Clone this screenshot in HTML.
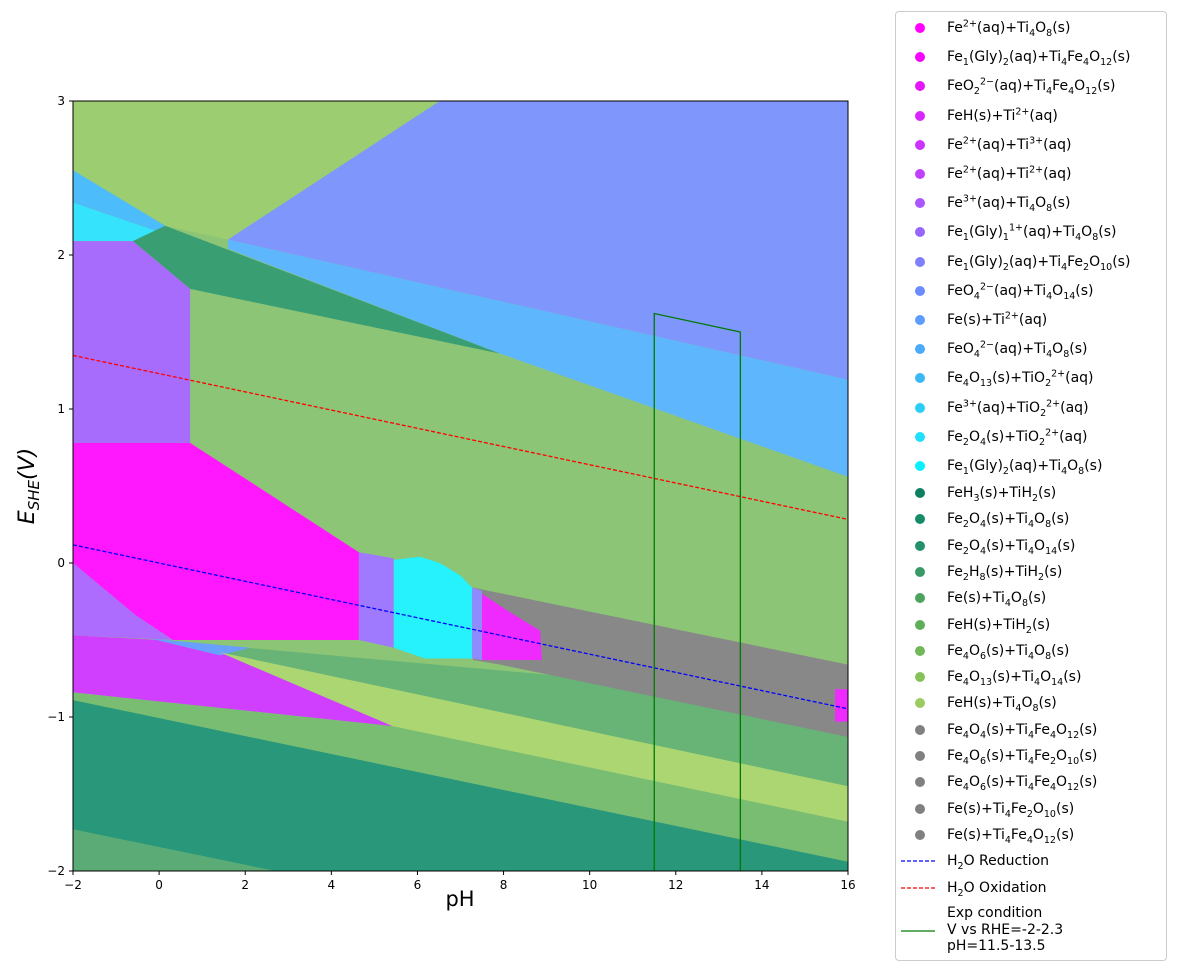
<!DOCTYPE html>
<html><head><meta charset="utf-8"><style>
body{margin:0;background:#fff;font-family:"DejaVu Sans","Liberation Sans",sans-serif}
#wrap{position:relative;width:1178px;height:972px}
#legend{position:absolute;left:895px;top:11px;width:272px;height:950px;border:1px solid #ccc;border-radius:4px;box-sizing:border-box;background:#fff;font-size:14px;color:#000}
.le{position:absolute;left:0;height:20px;line-height:20px;white-space:nowrap}
.le .dot{position:absolute;left:19px;top:5px;width:10px;height:10px;border-radius:50%}
.le .tx{position:absolute;left:51px;top:0}
.le svg{position:absolute;left:5px;top:9px}
sub,sup{font-size:9.5px;line-height:0}
</style></head><body>
<div id="wrap">
<svg id="plot" width="1178" height="972" style="position:absolute;left:0;top:0"></svg>
<div id="legend"></div>
</div>
<script>
const regionNames=["lightGreenTop","periwinkle","lightBlue","blueStrip","cyanStrip","darkGreen","purple","magenta","lavender","green2","dmagentaBand","blueSliver","yellowGreen","midGreen","teal","bottomGreen","gray","purpleStrip","cyanPatch","lavStrip","magPatch2","magPatch3"];
const regionColors=["#9ccd71","#7f96fd","#5eb7fd","#4cbcfa","#35e3fd","#3a9e73","#a86cfd","#ff18fd","#ad6cfd","#67b476","#d03ffe","#6aa0fd","#acd672","#79bd73","#28977a","#5aab76","#888888","#9f79fe","#25f2fd","#8f8afd","#ee2afe","#ee2afe"];
const regionPH=[
[-2,6.52,1.60,0.14,-2],
[6.52,16,16,1.60],
[1.60,16,16,7.92,1.60],
[-2,0.14,0.62,-2],
[-2,0.62,-2],
[0.14,7.92,0.72,-0.61],
[-2,-0.61,0.72,0.72,-2],
[-2,0.72,4.64,4.64,0.32,-0.54,-2],
[-2,-0.54,0.32,-2],
[0.04,16,16,1.41],
[-2,0.04,1.41,5.43,-2],
[-0.21,2.11,1.41],
[1.41,16,16,5.43],
[-2,5.43,16,16,-2],
[-2,16,16,2.69,-2],
[-2,2.69,-2],
[7.29,16,16,7.92,7.29],
[4.64,5.45,5.45,4.64],
[5.45,6.06,6.52,6.99,7.27,7.27,6.17,5.45],
[7.27,7.50,7.50,7.27],
[7.50,8.15,8.85,8.89,7.50],
[15.7,16,16,15.7]];
const regionE=[
[3,3,2.10,2.19,2.55],
[3,3,1.19,2.10],
[2.10,1.19,0.56,1.36,2.04],
[2.55,2.19,2.09,2.34],
[2.34,2.09,2.09],
[2.19,1.36,1.78,2.09],
[2.09,2.09,1.78,0.78,0.78],
[0.78,0.78,0.07,-0.50,-0.50,-0.34,0],
[0,-0.34,-0.50,-0.47],
[-0.50,-0.90,-1.45,-0.58],
[-0.47,-0.50,-0.58,-1.06,-0.84],
[-0.49,-0.55,-0.60],
[-0.58,-1.45,-1.68,-1.06],
[-0.84,-1.06,-1.68,-2,-2],
[-0.89,-1.94,-2,-2,-1.73],
[-1.73,-2,-2],
[-0.16,-0.66,-1.13,-0.66,-0.63],
[0.07,0.03,-0.55,-0.50],
[0.02,0.04,0,-0.08,-0.16,-0.62,-0.62,-0.55],
[-0.16,-0.18,-0.63,-0.62],
[-0.20,-0.32,-0.44,-0.63,-0.63],
[-0.82,-0.82,-1.03,-1.03]];
const xTicks=[-2,0,2,4,6,8,10,12,14,16];
const yTicks=[-2,-1,0,1,2,3];
const linePH=[-2,16];
const reductionE=[0.118,-0.947];
const oxidationE=[1.348,0.283];
const expPH=[11.5,11.5,13.5,13.5];
const expE=[-2,1.62,1.50,-2];
const legendLabels=["Fe<sup>2+</sup>(aq)+Ti<sub>4</sub>O<sub>8</sub>(s)","Fe<sub>1</sub>(Gly)<sub>2</sub>(aq)+Ti<sub>4</sub>Fe<sub>4</sub>O<sub>12</sub>(s)","FeO<sub>2</sub><sup>2−</sup>(aq)+Ti<sub>4</sub>Fe<sub>4</sub>O<sub>12</sub>(s)","FeH(s)+Ti<sup>2+</sup>(aq)","Fe<sup>2+</sup>(aq)+Ti<sup>3+</sup>(aq)","Fe<sup>2+</sup>(aq)+Ti<sup>2+</sup>(aq)","Fe<sup>3+</sup>(aq)+Ti<sub>4</sub>O<sub>8</sub>(s)","Fe<sub>1</sub>(Gly)<sub>1</sub><sup>1+</sup>(aq)+Ti<sub>4</sub>O<sub>8</sub>(s)","Fe<sub>1</sub>(Gly)<sub>2</sub>(aq)+Ti<sub>4</sub>Fe<sub>2</sub>O<sub>10</sub>(s)","FeO<sub>4</sub><sup>2−</sup>(aq)+Ti<sub>4</sub>O<sub>14</sub>(s)","Fe(s)+Ti<sup>2+</sup>(aq)","FeO<sub>4</sub><sup>2−</sup>(aq)+Ti<sub>4</sub>O<sub>8</sub>(s)","Fe<sub>4</sub>O<sub>13</sub>(s)+TiO<sub>2</sub><sup>2+</sup>(aq)","Fe<sup>3+</sup>(aq)+TiO<sub>2</sub><sup>2+</sup>(aq)","Fe<sub>2</sub>O<sub>4</sub>(s)+TiO<sub>2</sub><sup>2+</sup>(aq)","Fe<sub>1</sub>(Gly)<sub>2</sub>(aq)+Ti<sub>4</sub>O<sub>8</sub>(s)","FeH<sub>3</sub>(s)+TiH<sub>2</sub>(s)","Fe<sub>2</sub>O<sub>4</sub>(s)+Ti<sub>4</sub>O<sub>8</sub>(s)","Fe<sub>2</sub>O<sub>4</sub>(s)+Ti<sub>4</sub>O<sub>14</sub>(s)","Fe<sub>2</sub>H<sub>8</sub>(s)+TiH<sub>2</sub>(s)","Fe(s)+Ti<sub>4</sub>O<sub>8</sub>(s)","FeH(s)+TiH<sub>2</sub>(s)","Fe<sub>4</sub>O<sub>6</sub>(s)+Ti<sub>4</sub>O<sub>8</sub>(s)","Fe<sub>4</sub>O<sub>13</sub>(s)+Ti<sub>4</sub>O<sub>14</sub>(s)","FeH(s)+Ti<sub>4</sub>O<sub>8</sub>(s)","Fe<sub>4</sub>O<sub>4</sub>(s)+Ti<sub>4</sub>Fe<sub>4</sub>O<sub>12</sub>(s)","Fe<sub>4</sub>O<sub>6</sub>(s)+Ti<sub>4</sub>Fe<sub>2</sub>O<sub>10</sub>(s)","Fe<sub>4</sub>O<sub>6</sub>(s)+Ti<sub>4</sub>Fe<sub>4</sub>O<sub>12</sub>(s)","Fe(s)+Ti<sub>4</sub>Fe<sub>2</sub>O<sub>10</sub>(s)","Fe(s)+Ti<sub>4</sub>Fe<sub>4</sub>O<sub>12</sub>(s)"];
const legendColors=["#ff00ff","#f505fe","#e615fe","#d925fd","#cc33fd","#bf40fd","#aa55fd","#9966fd","#8080fd","#6c8cfd","#5a9dfd","#4aabfa","#3ab9f5","#2ccef5","#1fdffa","#0af0ff","#0c8060","#178a68","#24906a","#3a9a65","#4ea45e","#5fae5a","#70b858","#85c25a","#9ccc60","#808080","#808080","#808080","#808080","#808080"];

const NS="http://www.w3.org/2000/svg";
const svg=document.getElementById('plot');
const X0=73,X1=848,Y0=101,Y1=871;
function X(p){return X0+(p+2)*(X1-X0)/18;}
function Y(e){return Y0+(3-e)*(Y1-Y0)/5;}
function mk(t,a){const el=document.createElementNS(NS,t);for(const k in a)el.setAttribute(k,a[k]);svg.appendChild(el);return el;}
const clip=document.createElementNS(NS,'clipPath');clip.setAttribute('id','pc');
const cr=document.createElementNS(NS,'rect');cr.setAttribute('x',X0);cr.setAttribute('y',Y0);cr.setAttribute('width',X1-X0);cr.setAttribute('height',Y1-Y0);clip.appendChild(cr);svg.appendChild(clip);
const bg=mk('rect',{x:X0,y:Y0,width:X1-X0,height:Y1-Y0,fill:'#8cc576'});


const g=mk('g',{'clip-path':'url(#pc)'});
for(let i=0;i<regionNames.length;i++){
  const pts=regionPH[i].map((p,j)=>X(p).toFixed(1)+','+Y(regionE[i][j]).toFixed(1)).join(' ');
  const pg=document.createElementNS(NS,'polygon');
  pg.setAttribute('points',pts);pg.setAttribute('fill',regionColors[i]);
  
  
  g.appendChild(pg);
}
function line(ph,e,col,dash,name){
  const l=document.createElementNS(NS,'polyline');
  l.setAttribute('points',ph.map((p,j)=>X(p)+','+Y(e[j])).join(' '));
  l.setAttribute('fill','none');l.setAttribute('stroke',col);l.setAttribute('stroke-width','1.3');
  if(dash)l.setAttribute('stroke-dasharray',dash);
  
  
  g.appendChild(l);
}
line(linePH,reductionE,'#0000ff','4,2','h2o-reduction-line');
line(linePH,oxidationE,'#ff0000','4,2','h2o-oxidation-line');
line(expPH,expE,'#007a00',null,'exp-condition-line');
const fr=mk('rect',{x:X0,y:Y0,width:X1-X0,height:Y1-Y0,fill:'none',stroke:'#000','stroke-width':1});


xTicks.forEach(t=>{
  const x=X(t);
  mk('line',{x1:x,x2:x,y1:Y1,y2:Y1+4,stroke:'#000'});
  const tx=mk('text',{x:x,y:Y1+18,'text-anchor':'middle','font-size':12,'font-family':'DejaVu Sans, sans-serif'});
  tx.textContent=String(t).replace('-','−');
  
  
});
yTicks.forEach(t=>{
  const y=Y(t);
  mk('line',{x1:X0-4,x2:X0,y1:y,y2:y,stroke:'#000'});
  const tx=mk('text',{x:X0-8,y:y+4,'text-anchor':'end','font-size':12,'font-family':'DejaVu Sans, sans-serif'});
  tx.textContent=String(t).replace('-','−');
  
  
});
const xl=mk('text',{x:460,y:891,'text-anchor':'middle','font-size':21,'font-family':'DejaVu Sans, sans-serif','dominant-baseline':'hanging'});
xl.textContent='pH';


const yl=mk('text',{x:0,y:0,'text-anchor':'middle','font-size':22,'font-style':'italic','font-family':'DejaVu Sans, sans-serif',transform:'translate(34,486) rotate(-90)'});
yl.innerHTML='E<tspan font-size="15" dy="5">SHE</tspan><tspan dy="-5">(V)</tspan>';



const leg=document.getElementById('legend');
legendLabels.forEach((lab,i)=>{
  const d=document.createElement('div');d.className='le';
  const cy=i<16?(27+i*29.2):(492+(i-16)*26.3);
  d.style.top=(cy-11-10)+'px';
  d.innerHTML='<span class="dot" style="background:'+legendColors[i]+'"></span><span class="tx">'+lab+'</span>';
  
  
  leg.appendChild(d);
});
function legLine(top,col,dash,html,name,h,ly){
  const d=document.createElement('div');d.className='le';d.style.top=top+'px';
  if(h)d.style.height=h+'px';
  d.innerHTML='<svg width="34" height="4" style="top:'+(ly||8)+'px"><line x1="0" y1="2" x2="34" y2="2" stroke="'+col+'" stroke-width="1.3"'+(dash?' stroke-dasharray="4,2"':'')+'/></svg><span class="tx" style="line-height:16.5px;top:2px">'+html+'</span>';
  
  
  leg.appendChild(d);
}
legLine(839,'#0000ff',true,'H<sub>2</sub>O Reduction','legend-h2o-reduction');
legLine(866,'#ff0000',true,'H<sub>2</sub>O Oxidation','legend-h2o-oxidation');
legLine(891,'#007a00',false,'Exp condition<br>V vs RHE=-2-2.3<br>pH=11.5-13.5','legend-exp-condition',52,26);
</script>
</body></html>
